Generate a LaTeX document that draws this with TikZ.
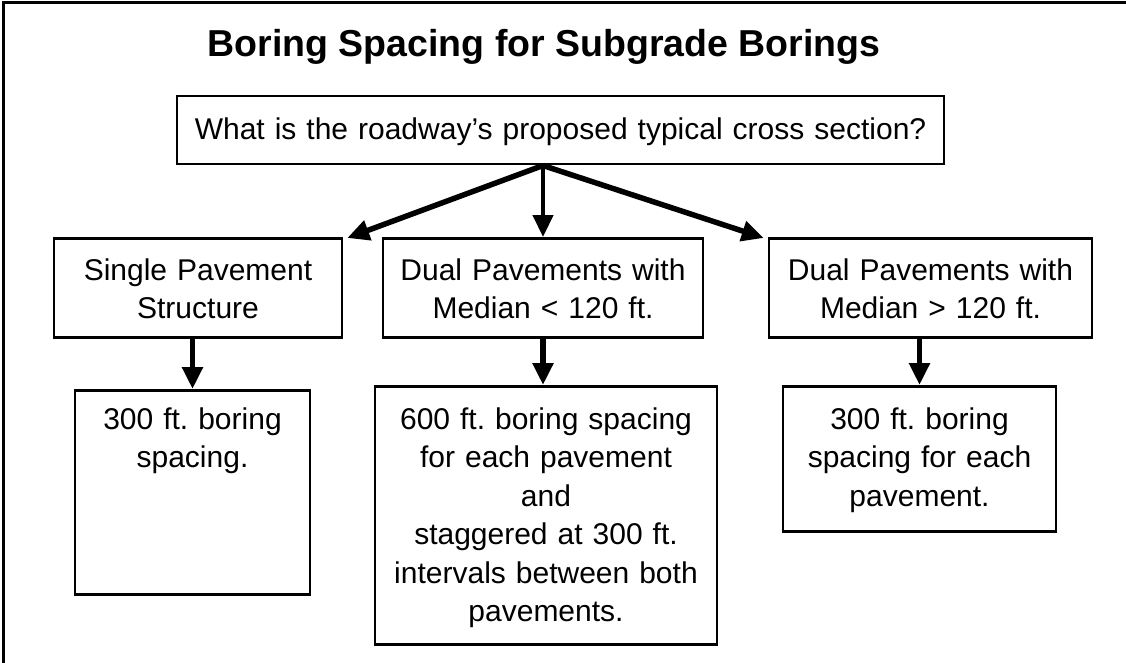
\documentclass[tikz,border=0pt]{standalone}
\usepackage{fontspec}
\setmainfont{Liberation Sans}
\usetikzlibrary{arrows.meta,calc}
\frenchspacing
\begin{document}
\begin{tikzpicture}[x=1pt,y=-1pt,
  box/.style={draw=black,line width=2.5pt,inner xsep=0pt,inner ysep=0pt,align=center,
    font=\frenchspacing\fontsize{30pt}{38.5pt}\selectfont},
  conn/.style={line width=5.5pt,-{Triangle[length=22pt,width=20pt]}},
  frame/.style={line width=3pt}]
\useasboundingbox (0,0) rectangle (1126,663);
\draw[frame] (3,663) -- (3,3) -- (1126,3);
\node[font=\bfseries\fontsize{37.5pt}{44pt}\selectfont,anchor=base] (title) at (544,57) {Boring Spacing for Subgrade Borings};
\node[box,anchor=north,text width=767pt,text height=43pt,text depth=25pt] (top) at (560.5,95) {What is the roadway’s proposed typical cross section?};
\node[box,anchor=north,text width=288pt,text height=42pt,text depth=57pt] (ul) at (198,237) {Single Pavement\\Structure};
\node[box,anchor=north,text width=320pt,text height=42pt,text depth=57pt] (um) at (543,237) {Dual Pavements with\\Median < 120 ft.};
\node[box,anchor=north,text width=323pt,text height=42pt,text depth=57pt] (ur) at (930.5,237) {Dual Pavements with\\Median > 120 ft.};
\node[box,anchor=north,text width=235pt,text height=39pt,text depth=165pt] (ll) at (192.5,389) {300 ft. boring\\spacing.};
\node[box,anchor=north,text width=342pt,text height=43pt,text depth=215pt] (lm) at (546,385) {600 ft. boring spacing\\for each pavement\\and\\staggered at 300 ft.\\intervals between both\\pavements.};
\node[box,anchor=north,text width=273pt,text height=43pt,text depth=102pt] (lr) at (919.5,385) {300 ft. boring\\spacing for each\\pavement.};
\coordinate (src) at (um.north |- top.south);
\draw[conn] (src) -- ($(ul.north east)+(4,1)$);
\draw[conn,line width=4.5pt] (src) -- (um.north);
\draw[conn] (src) -- ($(ur.north west)+(-4,1)$);
\draw[conn] (ll.north |- ul.south) -- (ll.north);
\draw[conn] (um.south) -- (um.south |- lm.north);
\draw[conn] (lr.north |- ur.south) -- (lr.north);
\end{tikzpicture}
\end{document}
